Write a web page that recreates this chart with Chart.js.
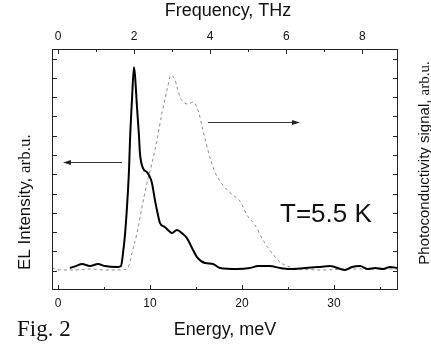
<!DOCTYPE html>
<html>
<head>
<meta charset="utf-8">
<script src="https://cdn.jsdelivr.net/npm/chart.js@4.4.1/dist/chart.umd.min.js"></script>
<style>
  html, body { margin: 0; padding: 0; background: #fff; }
  canvas { display: block; }
</style>
</head>
<body>
<canvas id="grafico" width="431" height="345"></canvas>
<script>
// Espectro EL (linha cheia, eixo esquerdo)
const elEnergy = [1.3, 1.96, 2.61, 3.48, 4.35, 5.11, 6.41, 6.85, 7.07, 7.28, 7.5, 7.72, 7.83, 8.04, 8.26, 8.37,
    8.59, 8.8, 8.91, 9.24, 9.67, 10.0, 10.22, 10.54, 10.87, 11.09, 11.63, 12.07, 12.39, 12.93, 13.48, 14.02,
    14.57, 15.11, 15.98, 16.85, 17.61, 19.46, 20.87, 21.74, 23.04, 24.13, 25.22, 26.85, 28.26, 29.57, 31.2,
    31.96, 32.83, 33.7, 34.46, 35.33, 36.09, 36.96];
const elIntensity = [1.14, 1.24, 1.35, 1.24, 1.35, 1.24, 1.19, 1.25, 1.92, 2.85, 4.30, 6.22, 7.77, 9.84, 11.55, 11.14,
    9.48, 8.03, 7.10, 6.32, 6.11, 5.85, 5.54, 4.66, 3.89, 3.47, 3.26, 3.06, 2.95, 3.11, 2.95, 2.69,
    2.18, 1.71, 1.40, 1.35, 1.14, 1.09, 1.14, 1.24, 1.24, 1.14, 1.09, 1.14, 1.19, 1.24, 1.04,
    1.19, 1.24, 1.09, 1.14, 1.09, 1.19, 1.14];

// Fotocondutividade (tracejada, eixo direito)
const pcEnergy = [-0.65, 0.22, 1.85, 3.48, 5.11, 6.74, 7.5, 7.83, 8.04, 8.59, 9.13, 9.67, 10.22, 10.76, 11.30, 11.85,
    12.28, 12.72, 13.26, 13.80, 14.13, 14.67, 15.22, 15.76, 16.30, 17.07, 17.93, 19.02, 19.78, 20.54, 21.41,
    22.28, 23.26, 24.13, 25.22, 26.30, 28.48, 31.74, 36.96];
const pcSignal = [1.14, 1.04, 1.04, 1.09, 1.04, 1.04, 1.09, 1.45, 1.92, 2.95, 4.30, 5.54, 6.58, 7.77, 9.17, 10.36,
    11.14, 10.88, 10.0, 9.69, 9.64, 9.74, 9.33, 8.29, 7.25, 6.11, 5.44, 4.92, 4.61, 3.89, 3.37,
    2.59, 1.92, 1.45, 1.19, 1.09, 1.04, 1.09, 1.09];

// Rótulos dos eixos
const energyTicks = [0, 10, 20, 30];
const freqTicks = [0, 2, 4, 6, 8];

const MEV_PER_THZ = 4.1357;
const energyMin = -0.65;
const energyMax = 36.96;

const SANS = '"Liberation Sans", Arial, sans-serif';
const SERIF = '"Liberation Serif", "Times New Roman", serif';

function seta(ctx, x1, y, x2) {
    const dir = x2 > x1 ? 1 : -1;
    ctx.beginPath();
    ctx.moveTo(x1, y);
    ctx.lineTo(x2 - dir * 6, y);
    ctx.stroke();
    ctx.beginPath();
    ctx.moveTo(x2, y);
    ctx.lineTo(x2 - dir * 8, y - 2.5);
    ctx.lineTo(x2 - dir * 8, y + 2.5);
    ctx.closePath();
    ctx.fill();
}

// Moldura, ticks internos, títulos e anotações
const moldura = {
    id: 'moldura',
    afterDraw(chart) {
        const ctx = chart.ctx;
        const { left, right, top, bottom } = chart.chartArea;
        const s = chart.scales;
        ctx.save();
        ctx.strokeStyle = '#222';
        ctx.fillStyle = '#222';
        ctx.lineWidth = 1;
        ctx.strokeRect(left + 0.5, top + 0.5, right - left - 1, bottom - top - 1);

        ctx.beginPath();
        s.x.ticks.forEach(t => {
            const px = Math.round(s.x.getPixelForValue(t.value)) + 0.5;
            const len = energyTicks.includes(t.value) ? 5 : 3;
            ctx.moveTo(px, bottom);
            ctx.lineTo(px, bottom - len);
        });
        s.x2.ticks.forEach(t => {
            const px = Math.round(s.x2.getPixelForValue(t.value)) + 0.5;
            const len = freqTicks.includes(t.value) ? 5 : 3;
            ctx.moveTo(px, top);
            ctx.lineTo(px, top + len);
        });
        s.y.ticks.forEach(t => {
            if (t.value === 0) return;
            const py = Math.round(s.y.getPixelForValue(t.value)) + 0.5;
            ctx.moveTo(left, py);
            ctx.lineTo(left + 5, py);
        });
        s.y2.ticks.forEach(t => {
            if (t.value === 0) return;
            const py = Math.round(s.y2.getPixelForValue(t.value)) + 0.5;
            ctx.moveTo(right, py);
            ctx.lineTo(right - 5, py);
        });
        ctx.stroke();

        // setas
        ctx.strokeStyle = '#333';
        ctx.fillStyle = '#222';
        seta(ctx, s.x.getPixelForValue(6.96), Math.round(s.y.getPixelForValue(6.63)) + 0.5, s.x.getPixelForValue(0.54));
        seta(ctx, s.x.getPixelForValue(16.3), Math.round(s.y.getPixelForValue(8.70)) + 0.5, s.x.getPixelForValue(26.3));

        ctx.fillStyle = '#111';
        ctx.textBaseline = 'alphabetic';

        ctx.font = '18px ' + SANS;
        ctx.textAlign = 'center';
        ctx.fillText('Frequency, THz', 228, 16);
        ctx.fillText('Energy, meV', 225, 335);

        ctx.font = '23px ' + SERIF;
        ctx.textAlign = 'left';
        ctx.fillText('Fig. 2', 17, 336);

        ctx.font = '26px ' + SANS;
        ctx.fillText('T=5.5 K', 280, 222);

        // título do eixo esquerdo
        ctx.save();
        ctx.translate(30, 270);
        ctx.rotate(-Math.PI / 2);
        ctx.textAlign = 'left';
        ctx.font = '17px ' + SANS;
        const parte = 'EL Intensity, ';
        ctx.fillText(parte, 0, 0);
        const w = ctx.measureText(parte).width;
        ctx.font = '17px ' + SERIF;
        ctx.fillText('arb.u.', w, 0);
        ctx.restore();

        // título do eixo direito
        ctx.save();
        ctx.font = '15px ' + SANS;
        const p1 = 'Photoconductivity signal, ';
        const w1 = ctx.measureText(p1).width;
        ctx.font = '15px ' + SERIF;
        const w2 = ctx.measureText('arb.u.').width;
        ctx.translate(429, 163 + (w1 + w2) / 2);
        ctx.rotate(-Math.PI / 2);
        ctx.textAlign = 'left';
        ctx.font = '15px ' + SANS;
        ctx.fillText(p1, 0, 0);
        ctx.font = '15px ' + SERIF;
        ctx.fillText('arb.u.', w1, 0);
        ctx.restore();

        ctx.restore();
    }
};

const tickFont = { family: SANS, size: 12 };

new Chart(document.getElementById('grafico').getContext('2d'), {
    type: 'line',
    data: {
        datasets: [
            {
                label: 'EL',
                data: elEnergy.map((e, i) => ({ x: e, y: elIntensity[i] })),
                xAxisID: 'x',
                yAxisID: 'y',
                borderColor: '#000',
                borderWidth: 2,
                pointRadius: 0,
                cubicInterpolationMode: 'monotone',
                order: 1
            },
            {
                label: 'Photoconductivity',
                data: pcEnergy.map((e, i) => ({ x: e, y: pcSignal[i] })),
                xAxisID: 'x',
                yAxisID: 'y2',
                borderColor: '#8a8a8a',
                borderWidth: 1,
                borderDash: [3, 3],
                pointRadius: 0,
                cubicInterpolationMode: 'monotone',
                order: 2
            }
        ]
    },
    options: {
        responsive: false,
        animation: false,
        devicePixelRatio: 1,
        layout: { padding: 0 },
        plugins: {
            legend: { display: false },
            tooltip: { enabled: false }
        },
        scales: {
            x: {
                type: 'linear',
                position: 'bottom',
                min: energyMin,
                max: energyMax,
                grid: { display: false, drawTicks: false },
                border: { display: false },
                ticks: {
                    stepSize: 5,
                    includeBounds: false,
                    autoSkip: false,
                    maxRotation: 0,
                    padding: 6,
                    color: '#111',
                    font: tickFont,
                    callback: v => energyTicks.includes(v) ? String(v) : ''
                },
                afterFit: s => { s.height = 55; }
            },
            x2: {
                type: 'linear',
                position: 'top',
                min: energyMin / MEV_PER_THZ,
                max: energyMax / MEV_PER_THZ,
                grid: { display: false, drawTicks: false },
                border: { display: false },
                ticks: {
                    stepSize: 1,
                    includeBounds: false,
                    autoSkip: false,
                    maxRotation: 0,
                    padding: 5,
                    color: '#111',
                    font: tickFont,
                    callback: v => freqTicks.includes(v) ? String(v) : ''
                },
                afterFit: s => { s.height = 49; }
            },
            y: {
                type: 'linear',
                position: 'left',
                min: 0,
                max: 12.5,
                grid: { display: false, drawTicks: false },
                border: { display: false },
                ticks: { display: false, stepSize: 1, includeBounds: false },
                afterFit: s => { s.width = 52; }
            },
            y2: {
                type: 'linear',
                position: 'right',
                min: 0,
                max: 12.5,
                grid: { display: false, drawTicks: false },
                border: { display: false },
                ticks: { display: false, stepSize: 1, includeBounds: false },
                afterFit: s => { s.width = 33; }
            }
        }
    },
    plugins: [moldura]
});
</script>
</body>
</html>
